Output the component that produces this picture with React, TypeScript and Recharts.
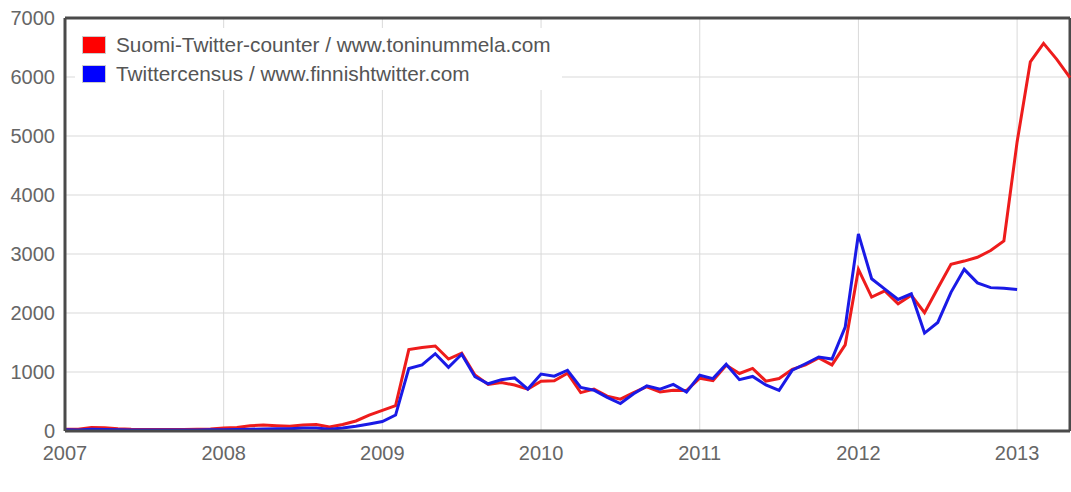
import React from 'react';
import {
  LineChart,
  Line,
  XAxis,
  YAxis,
  CartesianGrid,
  ReferenceLine,
} from 'recharts';

// monthly values, month 0 = Jan 2007
const suomiCounter = [
  30, 30, 60, 55, 40, 30, 25, 25, 25, 25, 30, 35,
  50, 60, 90, 100, 90, 80, 100, 110, 70, 110, 170, 270,
  350, 430, 1380, 1415, 1440, 1220, 1320, 950, 790, 820, 780, 710,
  845, 850, 980, 650, 710, 590, 540, 650, 750, 660, 690, 685,
  895, 855, 1115, 975, 1060, 845, 890, 1045, 1120, 1240, 1120, 1460,
  2740, 2270, 2375, 2155, 2300, 2005, 2420, 2825, 2880, 2945, 3060, 3220,
  4900, 6255, 6570, 6300, 5990,
];

const twittercensus = [
  20, 15, 30, 25, 20, 15, 15, 15, 15, 15, 15, 20,
  20, 25, 30, 35, 40, 40, 50, 50, 30, 50, 80, 120,
  160, 270, 1060, 1120, 1310, 1080, 1300, 920, 800, 870, 900, 710,
  965, 930, 1030, 740, 690, 570, 465, 630, 765, 710, 790, 660,
  945, 888, 1130, 870, 925, 780, 690, 1030, 1140, 1255, 1220, 1760,
  3340, 2580, 2405, 2230, 2325, 1660, 1840, 2350, 2740, 2510, 2430, 2420,
  2400,
];

const yearTicks = [2007, 2008, 2009, 2010, 2011, 2012, 2013];
const valueTicks = [0, 1000, 2000, 3000, 4000, 5000, 6000, 7000];

const seriesNames = [
  'Suomi-Twitter-counter / www.toninummela.com',
  'Twittercensus / www.finnishtwitter.com',
];
const RED = '#ee1c1c';
const BLUE = '#1a1ae6';
const FRAME = '#4a4a4a';
const FONT = '"Liberation Sans", Arial, sans-serif';

const data = suomiCounter.map((v, i) => ({
  m: i,
  suomi: v,
  census: i < twittercensus.length ? twittercensus[i] : null,
}));

const monthTicks = yearTicks.map(y => (y - 2007) * 12);

// legend sits over the plot on a white box, like the original
const LegendBox = () => (
  <div style={{
    position: 'absolute', left: 75, top: 28, width: 480, background: '#fff',
    padding: '2px 0 2px 7px', fontFamily: FONT,
  }}>
    {seriesNames.map((name, i) => (
      <div key={name} style={{ display: 'flex', alignItems: 'center', height: 29 }}>
        <span style={{
          display: 'inline-block', width: 22, height: 16, marginRight: 10,
          background: i === 0 ? '#f00' : '#00f', border: '1px solid #ccc'
        }} />
        <span style={{ fontSize: 20.8, color: '#555', whiteSpace: 'nowrap' }}>{name}</span>
      </div>
    ))}
  </div>
);

export default function App() {
  const tickStyle = { fill: '#666', fontSize: 20, fontFamily: FONT };
  return (
    <div style={{ position: 'absolute', left: 0, top: 0, width: 1071, height: 492, background: '#fff' }}>
      <LineChart width={1071} height={492} data={data} margin={{ top: 18, right: 1, bottom: 31, left: 0 }}>
        <CartesianGrid stroke="#d9d9d9" strokeWidth={1} />
        <XAxis
          dataKey="m"
          type="number"
          domain={[0, 76]}
          ticks={monthTicks}
          tickFormatter={v => String(2007 + v / 12)}
          tick={tickStyle}
          tickLine={false}
          tickMargin={9}
          axisLine={{ stroke: FRAME, strokeWidth: 3 }}
        />
        <YAxis
          width={65}
          domain={[0, 7000]}
          ticks={valueTicks}
          tick={tickStyle}
          tickLine={false}
          tickMargin={4}
          axisLine={{ stroke: FRAME, strokeWidth: 3 }}
        />
        <ReferenceLine y={7000} stroke={FRAME} strokeWidth={3} />
        <ReferenceLine x={76} stroke={FRAME} strokeWidth={3} />
        <Line type="linear" dataKey="suomi" name={seriesNames[0]} stroke={RED} strokeWidth={3} dot={false} isAnimationActive={false} />
        <Line type="linear" dataKey="census" name={seriesNames[1]} stroke={BLUE} strokeWidth={3} dot={false} isAnimationActive={false} />
      </LineChart>
      <LegendBox />
    </div>
  );
}
